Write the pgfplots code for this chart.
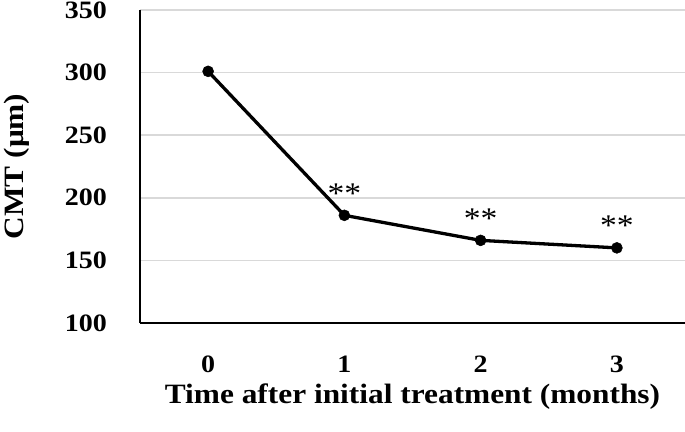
\documentclass[border=0pt]{standalone}
\usepackage{pgfplots}
\pgfplotsset{compat=1.18}
\usepackage{fontspec}
\setmainfont{Liberation Serif}[FakeStretch=1.12]
\begin{document}
\begin{tikzpicture}
\begin{axis}[
  scale only axis,
  width=545pt, height=313pt,
  xmin=-0.5, xmax=3.5,
  ymin=100, ymax=350,
  ytick={100,150,200,250,300,350},
  xtick={0,1,2,3},
  axis x line*=bottom, axis y line*=left,
  axis line style={black, line width=1.5pt, -},
  major tick length=0pt,
  ymajorgrids,
  grid style={black!15, line width=1.5pt},
  tick label style={font=\fontsize{25}{28}\selectfont\bfseries, inner sep=0pt},
  /pgf/number format/assume math mode=true,
  yticklabel style={anchor=east, xshift=-33pt},
  xticklabel style={anchor=center, yshift=-41pt},
  xlabel={Time after initial treatment (months)},
  ylabel={CMT (μm)},
  label style={font=\fontsize{28}{30}\selectfont\bfseries, inner sep=0pt},
  xlabel style={at={(axis description cs:0.5,0)}, anchor=center, yshift=-74pt},
  ylabel style={at={(axis description cs:0,0.5)}, anchor=center, yshift=123pt},
  clip=false,
]
\addplot[black, line width=3.3pt, mark=*, mark size=5.5pt, mark options={line width=0.5pt},
  nodes near coords, point meta=explicit symbolic,
  nodes near coords style={font=\fontsize{30}{32}\selectfont, anchor=center, yshift=22pt, inner sep=0pt}]
  table[meta=lab, row sep=\\] {
  x y lab \\
  0 301 {} \\
  1 186 {**} \\
  2 166 {**} \\
  3 160 {**} \\
};
\end{axis}
\pgfresetboundingbox
\useasboundingbox ([xshift=-140pt,yshift=-108pt]current axis.south west) rectangle ([yshift=10pt]current axis.north east);
\end{tikzpicture}
\end{document}
